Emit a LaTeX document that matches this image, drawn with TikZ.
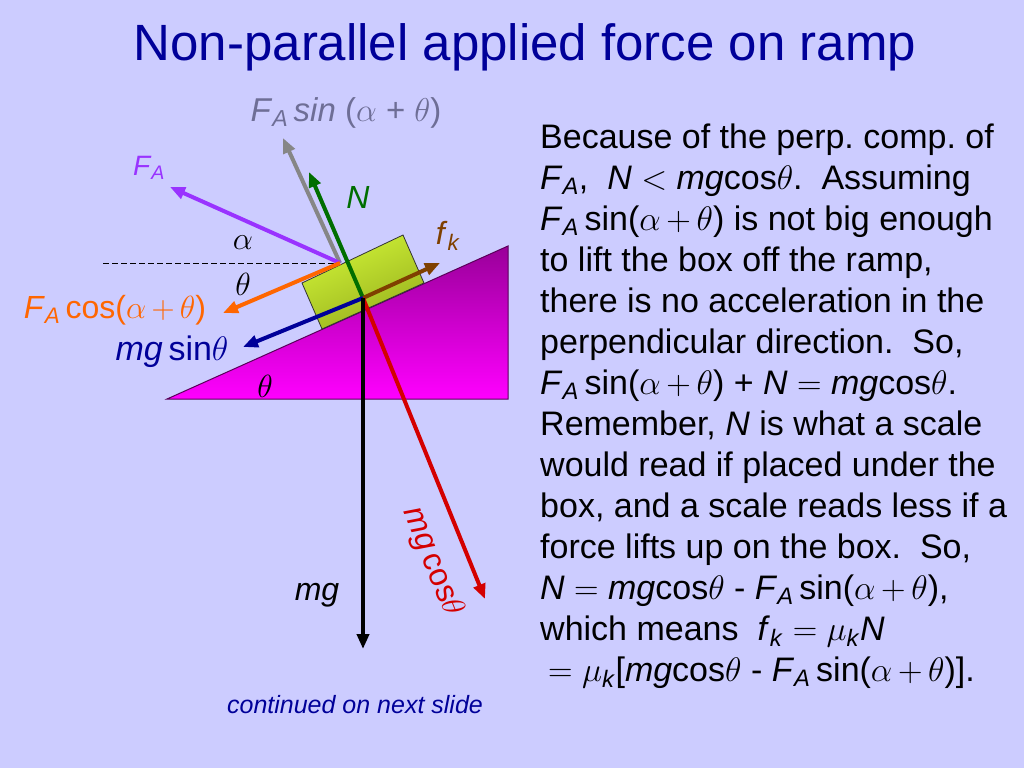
\RequirePackage{fix-cm}
\documentclass[tikz,border=0pt]{standalone}
\usepackage{fontspec}
\setmainfont{Liberation Sans}
\usetikzlibrary{arrows.meta}
\definecolor{slide}{HTML}{CCCCFF}
\definecolor{titleblue}{HTML}{000099}
\definecolor{rampdark}{HTML}{990099}
\definecolor{ramplight}{HTML}{FF00FF}
\definecolor{rampedge}{HTML}{5A005A}
\definecolor{boxlight}{HTML}{CFF236}
\definecolor{boxdark}{HTML}{98B01E}
\definecolor{fapurple}{HTML}{9933FF}
\definecolor{fagray}{HTML}{868686}
\definecolor{fagraytext}{HTML}{6E6E96}
\definecolor{faorange}{HTML}{FF6600}
\definecolor{ngreen}{HTML}{006E00}
\definecolor{fkbrown}{HTML}{7F4000}
\definecolor{mgsblue}{HTML}{000099}
\definecolor{mgcred}{HTML}{D40000}
\newcommand{\FA}{\textit{F}\textsubscript{\textit{A}}}
\newcommand{\fk}{\textit{f}\textsubscript{\textit{k}}}
\newcommand{\muk}{$\mu$\textsubscript{\textit{k}}}
\newcommand{\apt}{$\alpha{\,+\,}\theta$}
\frenchspacing
\begin{document}
\begin{tikzpicture}[x=1pt,y=-1pt,
    force/.style={line width=4pt,-{Triangle[length=15pt,width=12pt]}},
    lbl/.style={inner sep=0pt,font=\fontsize{32}{38}\selectfont}]
  \fill[slide] (0,0) rectangle (1024,768);
  \node[text=titleblue,font=\fontsize{51}{60}\selectfont] (title) at (525,47)
    {Non-parallel applied force on ramp};
  \coordinate (rl) at (167,399);
  \coordinate (rr) at (508,399);
  \coordinate (rt) at (508,246);
  \shade[top color=rampdark,bottom color=ramplight] (rl) -- (rr) -- (rt) -- cycle;
  \draw[rampedge,line width=1pt] (rl) -- (rr) -- (rt) -- cycle;
  \coordinate (b1) at (322,329);
  \coordinate (b2) at (424,283);
  \coordinate (b3) at (403,235);
  \coordinate (b4) at (302,283);
  \shade[top color=boxlight,bottom color=boxdark,shading angle=24]
    (b1) -- (b2) -- (b3) -- (b4) -- cycle;
  \draw[black!80,line width=0.8pt] (b1) -- (b2) -- (b3) -- (b4) -- cycle;
  \coordinate (o) at (363,298);
  \coordinate (p) at (340,263);
  \coordinate (d) at (103,263);
  \draw[dash pattern=on 6pt off 3pt,line width=0.8pt] (d) -- (p);
  \draw
    (170,187) coordinate (fa)
    (283,138) coordinate (fas)
    (223,313) coordinate (fac)
    (309,172) coordinate (n)
    (440,263) coordinate (fk)
    (243,347) coordinate (mgs)
    (363,649) coordinate (mg)
    (485,599) coordinate (mgc);
  \begin{scope}[force]
    \draw[fagray] (p) to (fas);
    \draw[fapurple] (p) to (fa);
    \draw[faorange] (p) to (fac);
    \draw[ngreen] (o) to (n);
    \draw[fkbrown] (o) to (fk);
    \draw[mgsblue] (o) to (mgs);
    \draw[mgcred] (o) to (mgc);
    \draw[black] (o) to (mg);
  \end{scope}
  \node[lbl,text=fagraytext,font=\fontsize{33}{38}\selectfont] (faslbl) at (346,113)
    {\FA\,\textit{sin} ($\alpha$ + $\theta$)};
  \node[lbl,text=fapurple,font=\fontsize{28}{32}\selectfont] (falbl) at (149,168) {\FA};
  \node[lbl,text=ngreen] (nlbl) at (358,197) {\textit{N}};
  \node[lbl,text=fkbrown] (fklbl) at (448,236) {\fk};
  \node[lbl] (alpha) at (243,243) {$\alpha$};
  \node[lbl] (theta) at (243,284) {$\theta$};
  \node[lbl,text=faorange] (faclbl) at (115,310) {\FA\,cos(\apt)};
  \node[lbl,text=mgsblue,font=\fontsize{34}{38}\selectfont] (mgslbl) at (172,352)
    {\textit{mg}\,sin$\theta$};
  \node[lbl] (ramptheta) at (265,386) {$\theta$};
  \node[lbl] (mglbl) at (317,595) {\textit{mg}};
  \node[lbl,text=mgcred,rotate=-68] (mgclbl) at (432,562) {\textit{mg}\,cos$\theta$};
  \node[text=titleblue,font=\fontsize{25}{30}\selectfont\itshape] (cont) at (355,705)
    {continued on next slide};
  \node[anchor=north west,align=left,inner sep=0pt,font=\fontsize{34}{41}\selectfont]
    (expl) at (540,124) {Because of the perp. comp. of\\
    \FA, \ \textit{N} $<$ \textit{mg}cos$\theta$. \ Assuming\\
    \FA\,sin(\apt) is not big enough\\
    to lift the box off the ramp,\\
    there is no acceleration in the\\
    perpendicular direction. \ So,\\
    \FA\,sin(\apt) + \textit{N} $=$ \textit{mg}cos$\theta$.\\
    Remember, \textit{N} is what a scale\\
    would read if placed under the\\
    box, and a scale reads less if a\\
    force lifts up on the box. \ So,\\
    \textit{N} $=$ \textit{mg}cos$\theta$ - \FA\,sin(\apt),\\
    which means \ \fk\ $=$ \muk\textit{N}\\
    \hspace*{8pt}$=$ \muk[\textit{mg}cos$\theta$ - \FA\,sin(\apt)].};
\end{tikzpicture}
\end{document}
